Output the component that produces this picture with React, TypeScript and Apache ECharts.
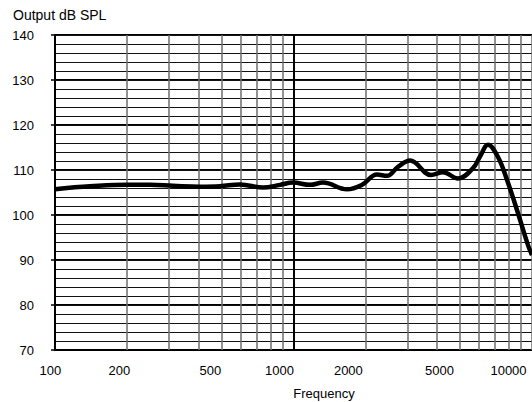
import React, { useEffect, useRef } from "react";
import * as echarts from "echarts";

const freqs = [100, 118, 140, 200, 250, 312, 405, 492, 597, 745, 878, 995, 1173, 1330, 1676, 1938, 2239, 2466, 2743, 3080, 3771, 4236, 4895, 5656, 6053, 6539, 7200, 7858, 8650, 9620, 10000];
const spl = [105.7, 106.1, 106.4, 106.7, 106.7, 106.5, 106.3, 106.4, 106.8, 106.1, 106.7, 107.2, 106.7, 107.2, 105.7, 106.7, 109.0, 108.7, 110.7, 112.1, 108.9, 109.5, 108.1, 110.4, 113.0, 115.6, 112.9, 107.8, 101.1, 93.3, 91.1];

const xTickLabels = [100, 200, 500, 1000, 2000, 5000, 10000];
const minorFreqLines = [200, 300, 400, 500, 600, 700, 800, 900, 2000, 3000, 4000, 5000, 6000, 7000, 8000, 9000, 10000];
const majorFreqLines = [1000];

const yMin = 70;
const yMax = 140;

export default function App() {
  const ref = useRef<HTMLDivElement>(null);
  useEffect(() => {
    if (!ref.current) return;
    const chart = echarts.init(ref.current, null, { renderer: "svg" });
    const data = freqs.map((f, i) => [f, spl[i]]);
    const gridLines = [
      ...minorFreqLines.map((v) => ({ xAxis: v, lineStyle: { color: "#6e6e6e", width: 1.5, type: "solid" } })),
      ...majorFreqLines.map((v) => ({ xAxis: v, lineStyle: { color: "#000", width: 2, type: "solid" } })),
    ];
    chart.setOption({
      animation: false,
      backgroundColor: "#fff",
      textStyle: { fontFamily: "Liberation Sans, Arial, sans-serif" },
      grid: [
        { left: 55, right: 0, top: 35, bottom: 52 },
        { left: 50.3, right: 0, top: 35, bottom: 52 },
      ],
      xAxis: [
        {
          type: "log",
          logBase: 10,
          gridIndex: 0,
          min: 100,
          max: 10000,
          axisLine: { show: true, lineStyle: { color: "#000", width: 2 } },
          axisTick: { show: false },
          axisLabel: { show: false },
          splitLine: { show: false },
        },
        {
          type: "value",
          gridIndex: 1,
          min: 2,
          max: 4.1026,
          axisLine: { show: false },
          axisTick: { show: false },
          splitLine: { show: false },
          axisLabel: {
            show: true,
            customValues: xTickLabels.map((v) => Math.log10(v)),
            color: "#000",
            fontSize: 13,
            margin: 14,
            fontFamily: "Liberation Sans, Arial, sans-serif",
            formatter: (v: number) => String(Math.round(Math.pow(10, v))),
          },
        },
      ],
      yAxis: [
        {
          type: "value",
          gridIndex: 0,
          min: yMin,
          max: yMax,
          interval: 10,
          axisLine: { show: true, lineStyle: { color: "#000", width: 2 } },
          axisTick: { show: true, length: 4, lineStyle: { color: "#000", width: 1.5 } },
          axisLabel: { color: "#000", fontSize: 13, margin: 21, fontFamily: "Liberation Sans, Arial, sans-serif" },
          splitLine: { show: true, lineStyle: { color: "#000", width: 2 } },
        },
        {
          type: "value",
          gridIndex: 0,
          min: yMin,
          max: yMax,
          interval: 2,
          axisLine: { show: false },
          axisTick: { show: false },
          axisLabel: { show: false },
          splitLine: { show: true, lineStyle: { color: "#111", width: 1.2 } },
        },
        {
          type: "value",
          gridIndex: 1,
          min: yMin,
          max: yMax,
          show: false,
        },
      ],
      graphic: [
        {
          type: "text",
          left: 13,
          top: 8,
          style: { text: "Output dB SPL", fontSize: 14, fill: "#000", fontFamily: "Liberation Sans, Arial, sans-serif" },
        },
        {
          type: "text",
          x: 324,
          y: 393,
          style: { text: "Frequency", fontSize: 13, fill: "#000", align: "center", verticalAlign: "middle", fontFamily: "Liberation Sans, Arial, sans-serif" },
        },
      ],
      series: [
        {
          type: "line",
          xAxisIndex: 0,
          yAxisIndex: 0,
          data,
          showSymbol: false,
          silent: true,
          z: 1,
          lineStyle: { opacity: 0, width: 0 },
          markLine: { silent: true, symbol: "none", label: { show: false }, data: gridLines },
        },
        {
          type: "line",
          xAxisIndex: 0,
          yAxisIndex: 0,
          data,
          smooth: 0.4,
          showSymbol: false,
          z: 5,
          lineStyle: { color: "#000", width: 4.5 },
        },
      ],
    });
    return () => chart.dispose();
  }, []);
  return <div ref={ref} style={{ position: "absolute", left: 0, top: 0, width: 532, height: 402 }} />;
}
